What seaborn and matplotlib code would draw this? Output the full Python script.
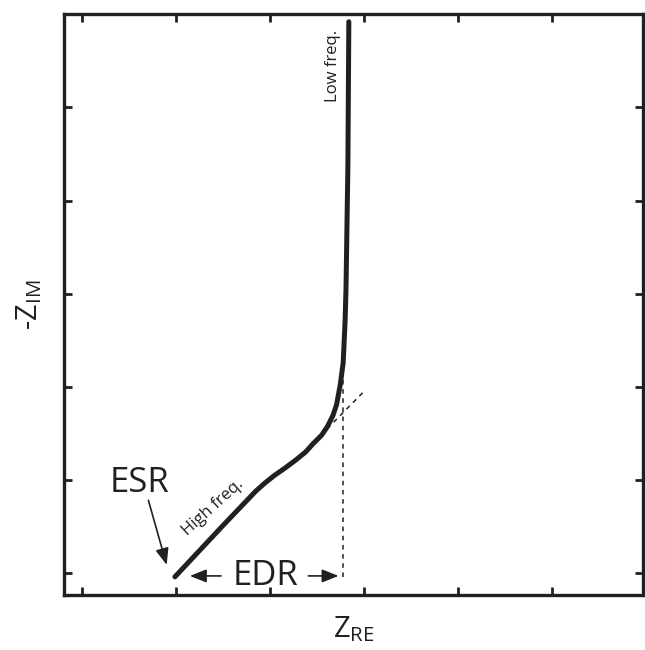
import matplotlib
matplotlib.use("Agg")
import matplotlib.pyplot as plt
import seaborn as sns
import pandas as pd

# Nyquist curve (arbitrary units)
zre = [0.99, 1.50, 1.85, 1.95, 2.05, 2.15, 2.27, 2.38, 2.46, 2.55, 2.61, 2.67, 2.71, 2.75, 2.78, 2.80, 2.81, 2.83, 2.84]
zim = [-0.04, 0.51, 0.88, 0.97, 1.05, 1.12, 1.21, 1.30, 1.39, 1.48, 1.57, 1.69, 1.81, 2.03, 2.26, 2.70, 3.05, 4.37, 5.92]

# dashed construction lines
vline_x = [2.78, 2.78]
vline_y = [-0.04, 2.32]
ext_x = [2.61, 3.00]
ext_y = [1.55, 1.95]

xticks = [0, 1, 2, 3, 4, 5]
yticks = [0, 1, 2, 3, 4, 5]

sns.set_style("white")
plt.rcParams['font.family'] = ['Open Sans', 'DejaVu Sans']
plt.rcParams['mathtext.fontset'] = 'custom'
plt.rcParams['mathtext.rm'] = 'Open Sans'

ink = "#231f20"

fig = plt.figure(figsize=(6.45, 6.5), dpi=100)
ax = fig.add_axes([0.0992, 0.0846, 0.8978, 0.8934])

df = pd.DataFrame({"zre": zre, "zim": zim})
sns.lineplot(data=df, x="zre", y="zim", sort=False, color=ink, lw=3.6, ax=ax)
ax.plot(vline_x, vline_y, ls=(0, (3, 3)), color=ink, lw=1.1)
ax.plot(ext_x, ext_y, ls=(0, (3, 3)), color=ink, lw=1.1)

ax.set_xlim(-0.19, 5.97)
ax.set_ylim(-0.235, 6.0)
ax.set_xticks(xticks)
ax.set_yticks(yticks)
ax.tick_params(direction="in", length=6, width=2, color=ink,
               top=True, right=True, bottom=True, left=True,
               labelbottom=False, labelleft=False)
for s in ax.spines.values():
    s.set_linewidth(2.4)
    s.set_color(ink)

ax.set_xlabel(r"Z$_{\mathrm{RE}}$", fontsize=21, color=ink, labelpad=14)
ax.set_ylabel(r"-Z$_{\mathrm{IM}}$", fontsize=21, color=ink, labelpad=14)

# annotations
ax.text(0.61, 0.97, "ESR", fontsize=25, color=ink, ha="center", va="center")
ax.annotate("", xy=(0.91, 0.06), xytext=(0.70, 0.81),
            arrowprops=dict(arrowstyle="-|>,head_length=1.0,head_width=0.4", color=ink, lw=1.2))
ax.text(1.95, -0.03, "EDR", fontsize=25, color=ink, ha="center", va="center")
ax.annotate("", xy=(1.12, -0.03), xytext=(1.51, -0.03),
            arrowprops=dict(arrowstyle="-|>,head_length=1.0,head_width=0.4", color=ink, lw=1.2))
ax.annotate("", xy=(2.76, -0.03), xytext=(2.38, -0.03),
            arrowprops=dict(arrowstyle="-|>,head_length=1.0,head_width=0.4", color=ink, lw=1.2))
ax.text(1.40, 0.70, "High freq.", fontsize=12, color=ink, rotation=42,
        ha="center", va="center", rotation_mode="anchor")
ax.text(2.67, 5.45, "Low freq.", fontsize=12, color=ink, rotation=90,
        ha="center", va="center")

fig.savefig("out.png", dpi=100)
